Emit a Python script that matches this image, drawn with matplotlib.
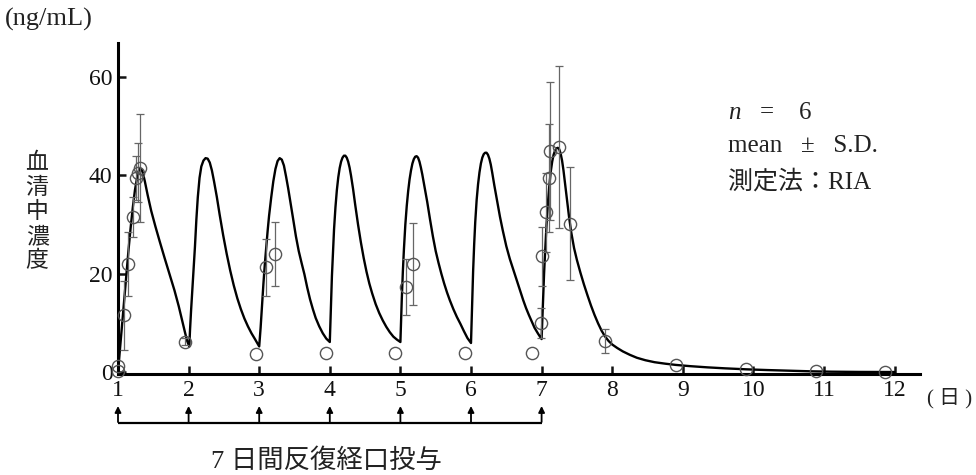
import matplotlib
matplotlib.use("Agg")
import matplotlib.pyplot as plt
import matplotlib.transforms as mtransforms

plt.rcParams['font.family'] = ['Liberation Serif', 'Noto Sans CJK JP']
plt.rcParams['mathtext.fontset'] = 'custom'
plt.rcParams['mathtext.it'] = 'Liberation Serif:italic'
plt.rcParams['mathtext.rm'] = 'Liberation Serif'

# ---- data ----
x_ticks = [1, 2, 3, 4, 5, 6, 7, 8, 9, 10, 11, 12]
y_ticks = [0, 20, 40, 60]
dose_days = [1, 2, 3, 4, 5, 6, 7]

# observed means and S.D.
obs_day = [1.00, 1.00, 1.08, 1.14, 1.21, 1.25, 1.28, 1.31,
           1.95,
           2.96, 3.10, 3.22,
           3.94,
           4.93, 5.08, 5.18,
           5.92,
           6.86, 6.99, 7.01, 7.06, 7.10, 7.12, 7.24, 7.40, 7.90,
           8.90, 9.90, 10.88, 11.87]
obs_conc = [0.2, 1.3, 11.5, 22.0, 31.5, 39.5, 40.5, 41.5,
            6.2,
            3.7, 21.3, 24.0,
            3.9,
            3.9, 17.3, 22.0,
            3.9,
            3.9, 10.0, 23.5, 32.5, 39.5, 45.0, 45.8, 30.2, 6.3,
            1.5, 0.6, 0.2, 0.0]
obs_sd = [0.0, 0.0, 7.0, 6.5, 4.0, 4.5, 6.0, 11.0,
          0.8,
          0.0, 5.8, 6.5,
          0.0,
          0.0, 5.6, 8.3,
          0.0,
          0.0, 3.0, 6.0, 8.0, 11.0, 14.0, 16.5, 11.5, 2.5,
          0.0, 0.0, 0.0, 0.0]

# simulated concentration curve, one list pair per dosing interval
c1_day = [1.00, 1.03, 1.06, 1.09, 1.12, 1.15, 1.18, 1.21, 1.24, 1.27, 1.29, 1.31, 1.33, 1.35, 1.38,
          1.42, 1.47, 1.53, 1.59, 1.66, 1.73, 1.80, 1.86, 1.91, 1.95, 1.98, 2.01]
c1_conc = [0.0, 5.0, 10.0, 15.0, 20.0, 25.0, 29.5, 33.5, 37.0, 39.5, 40.8, 41.4, 41.3, 40.6, 38.8,
           36.0, 32.8, 29.6, 26.6, 23.2, 19.9, 16.6, 13.4, 10.4, 8.0, 6.3, 5.2]
c2_day = [2.02, 2.035, 2.05, 2.07, 2.09, 2.11, 2.13, 2.155, 2.18, 2.21, 2.24, 2.27, 2.30, 2.33, 2.36,
          2.40, 2.44, 2.49, 2.54, 2.59, 2.64, 2.69, 2.74, 2.79, 2.84, 2.89, 2.94, 3.00]
c2_conc = [8.5, 12.5, 16.0, 20.5, 25.5, 31.0, 35.5, 39.5, 41.8, 43.0, 43.5, 43.4, 42.6, 41.0, 38.8,
           35.6, 32.0, 27.8, 24.0, 20.6, 17.6, 15.0, 12.8, 10.9, 9.3, 7.9, 6.7, 5.2]
c3_day = [3.02, 3.04, 3.06, 3.08, 3.10, 3.12, 3.14, 3.17, 3.20, 3.23, 3.26, 3.29, 3.32, 3.35, 3.38,
          3.41, 3.44, 3.48, 3.52, 3.56, 3.60, 3.64, 3.68, 3.72, 3.76, 3.80, 3.85, 3.90, 3.95, 4.00]
c3_conc = [9.0, 13.5, 18.0, 22.0, 25.5, 28.8, 31.8, 35.5, 38.8, 41.3, 42.9, 43.5, 43.2, 42.0, 39.8,
           37.4, 34.8, 31.2, 27.6, 24.6, 22.2, 19.9, 17.2, 14.8, 12.8, 11.0, 9.3, 7.9, 6.8, 6.1]
c4_day = [4.01, 4.02, 4.03, 4.045, 4.06, 4.08, 4.10, 4.12, 4.14, 4.16, 4.18, 4.20, 4.22, 4.24, 4.26,
          4.28, 4.30, 4.33, 4.36, 4.40, 4.44, 4.48, 4.52, 4.56, 4.60, 4.65, 4.70, 4.75, 4.80, 4.85,
          4.90, 4.95, 5.00]
c4_conc = [10.5, 15.5, 19.5, 24.5, 29.0, 33.5, 37.0, 39.6, 41.5, 42.8, 43.6, 44.0, 44.0, 43.6, 42.8,
           41.6, 40.0, 37.2, 34.0, 30.0, 26.4, 23.2, 20.4, 18.0, 16.0, 13.8, 12.0, 10.5, 9.2, 8.1,
           7.2, 6.6, 6.1]
c5_day = [5.01, 5.02, 5.035, 5.05, 5.07, 5.09, 5.11, 5.13, 5.15, 5.17, 5.19, 5.21, 5.23, 5.25, 5.27,
          5.29, 5.31, 5.34, 5.38, 5.42, 5.46, 5.50, 5.54, 5.58, 5.62, 5.66, 5.70, 5.75, 5.80, 5.85,
          5.90, 5.95, 6.00]
c5_conc = [10.5, 15.0, 20.5, 25.0, 30.0, 33.8, 36.8, 39.2, 41.0, 42.4, 43.3, 43.8, 43.9, 43.6, 42.8,
           41.6, 40.2, 37.8, 34.6, 31.0, 27.6, 24.6, 22.2, 20.0, 18.0, 16.2, 14.6, 12.8, 11.2, 9.8,
           8.3, 6.9, 5.9]
c6_day = [6.01, 6.02, 6.03, 6.045, 6.06, 6.08, 6.10, 6.12, 6.14, 6.16, 6.18, 6.20, 6.22, 6.24, 6.26,
          6.28, 6.30, 6.33, 6.37, 6.41, 6.45, 6.50, 6.55, 6.60, 6.65, 6.70, 6.74, 6.78, 6.82, 6.86,
          6.90, 6.95, 7.00]
c6_conc = [11.0, 16.0, 20.5, 26.0, 30.5, 35.0, 38.2, 40.6, 42.4, 43.6, 44.3, 44.6, 44.6, 44.2, 43.4,
           42.2, 40.6, 38.0, 34.8, 31.6, 28.8, 25.6, 23.0, 20.8, 18.6, 16.4, 14.6, 13.0, 11.6, 10.3,
           9.0, 7.8, 6.7]
c7_day = [7.01, 7.02, 7.035, 7.05, 7.07, 7.09, 7.11, 7.13, 7.15, 7.17, 7.19, 7.21, 7.23, 7.25, 7.27,
          7.29, 7.31, 7.33, 7.36, 7.39, 7.42, 7.46, 7.50, 7.55, 7.60, 7.65, 7.70, 7.75, 7.80, 7.85,
          7.90, 7.95, 8.00, 8.07, 8.15, 8.25, 8.35, 8.47, 8.60, 8.75, 8.90, 9.10, 9.35, 9.60, 9.90,
          10.2, 10.5, 10.8, 11.1, 11.5, 12.0]
c7_conc = [10.5, 14.5, 20.0, 24.5, 30.0, 34.5, 38.0, 40.8, 42.8, 44.2, 45.0, 45.5, 45.6, 45.3, 44.4,
           43.0, 41.0, 38.6, 35.0, 31.4, 28.4, 25.2, 22.8, 20.2, 17.8, 15.6, 13.5, 11.6, 9.9, 8.4,
           7.2, 6.3, 5.6, 4.9, 4.2, 3.5, 2.9, 2.4, 2.0, 1.7, 1.45, 1.2, 0.95, 0.75, 0.55,
           0.4, 0.28, 0.15, 0.07, 0.02, 0.0]

curve_days = c1_day + c2_day + c3_day + c4_day + c5_day + c6_day + c7_day
curve_conc = c1_conc + c2_conc + c3_conc + c4_conc + c5_conc + c6_conc + c7_conc

# ---- figure ----
W, H = 976, 475
fig = plt.figure(figsize=(W / 100, H / 100), dpi=100)
ax_left, ax_right, ax_bottom, ax_top = 118, 920, 374, 42.6
ax = fig.add_axes([ax_left / W, 1 - ax_bottom / H, (ax_right - ax_left) / W, (ax_bottom - ax_top) / H])
ax.set_xlim(1, 1 + (ax_right - ax_left) / 70.6)
ax.set_ylim(-0.4, 67)

ax.plot(curve_days, curve_conc, color='black', lw=1.7, zorder=3,
        solid_joinstyle='round', solid_capstyle='round')

# error bars only where an S.D. is shown
eb_day = [d for d, s in zip(obs_day, obs_sd) if s > 0]
eb_conc = [c for c, s in zip(obs_conc, obs_sd) if s > 0]
eb_sd = [s for s in obs_sd if s > 0]
ax.errorbar(eb_day, eb_conc, yerr=eb_sd, fmt='none', ecolor='#666666', elinewidth=0.9,
            capsize=3, capthick=0.9, zorder=4)
ax.plot(obs_day, obs_conc, 'o', ms=8.8, mfc='none', mec='#555555', mew=1.0,
        zorder=5, clip_on=False)

for s in ['top', 'right']:
    ax.spines[s].set_visible(False)
for s in ['left', 'bottom']:
    ax.spines[s].set_linewidth(2.2)
    ax.spines[s].set_color('black')

ax.set_xticks(x_ticks)
ax.set_yticks(y_ticks)
ax.tick_params(direction='in', length=6, width=1.8, labelsize=17, pad=4, colors='#111111')

# unit label and axis titles
txt_kw = dict(color='#222222')
fig.text(5 / W, 1 - 19 / H, '(ng/mL)', fontsize=19, va='center', ha='left', **txt_kw)
for i, ch in enumerate('血清中濃度'):
    fig.text(37 / W, 1 - (163 + i * 24.5) / H, ch, fontsize=16.5, va='center', ha='center',
             family=['Noto Sans CJK JP'], **txt_kw)
fig.text(927 / W, 1 - 398 / H, '( 日 )', fontsize=15, va='center', ha='left', **txt_kw)

# annotation
fig.text(728 / W, 1 - 113 / H, r'$n$   =    6', fontsize=18, va='center', ha='left', **txt_kw)
fig.text(728 / W, 1 - 146 / H, 'mean   ±   S.D.', fontsize=18, va='center', ha='left', **txt_kw)
fig.text(728 / W, 1 - 182 / H, '測定法：RIA', fontsize=18, va='center', ha='left', **txt_kw)

# dosing arrows
trans = mtransforms.blended_transform_factory(ax.transData, fig.transFigure)
y_line = 1 - 423 / H
y_tip = 1 - 406 / H
ax.plot([dose_days[0], dose_days[-1]], [y_line, y_line], transform=trans, color='black',
        lw=1.6, clip_on=False, solid_capstyle='butt')
for d in dose_days:
    ax.annotate('', xy=(d, y_tip), xycoords=trans, xytext=(d, y_line + 0.002), textcoords=trans,
                arrowprops=dict(arrowstyle='-|>', mutation_scale=9, lw=1.3, color='black',
                                shrinkA=0, shrinkB=0), annotation_clip=False)
fig.text(326 / W, 1 - 461 / H, '7 日間反復経口投与', fontsize=19, va='center', ha='center', **txt_kw)

fig.savefig('out.png', dpi=100)
